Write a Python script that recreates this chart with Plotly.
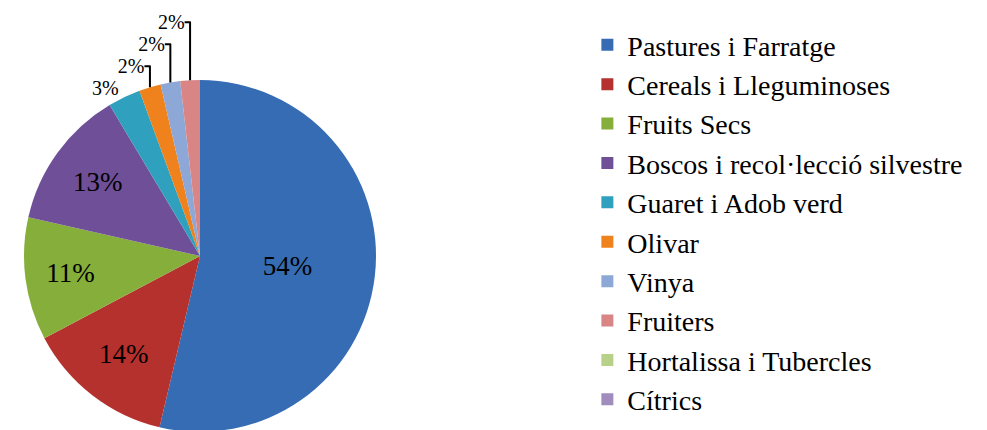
import plotly.graph_objects as go

# superficie per tipus de cultiu (%)
categories = ['Pastures i Farratge', 'Cereals i Lleguminoses', 'Fruits Secs',
              'Boscos i recol·lecció silvestre', 'Guaret i Adob verd', 'Olivar',
              'Vinya', 'Fruiters', 'Hortalissa i Tubercles', 'Cítrics']
values = [53.8, 13.6, 11.3, 12.9, 3.0, 2.0, 1.8, 1.8, 0.0, 0.0]
colors = ['#356CB4', '#B5312E', '#85AE3A', '#6F4F98', '#2FA0BD',
          '#F0821E', '#8DA8D6', '#D98586', '#B7D18A', '#A08DBE']

# etiquetes: les dels sectors petits van fora, les buides no es mostren
labels_txt = [f"{round(v)}%" if v > 0 else '' for v in values]
positions = ['inside' if v > 5 else ('outside' if v > 0 else 'none') for v in values]

serif = 'Liberation Serif, Times New Roman, serif'

fig = go.Figure(go.Pie(
    labels=categories,
    values=values,
    text=labels_txt,
    textinfo='text',
    textposition=positions,
    insidetextorientation='horizontal',
    automargin=False,
    sort=False,
    direction='clockwise',
    rotation=0,
    marker=dict(colors=colors, line=dict(width=0)),
    outsidetextfont=dict(family=serif, size=20, color='black'),
    insidetextfont=dict(family=serif, size=27, color='black'),
    domain=dict(x=[16 / 987, 368 / 987], y=[6 / 430, 358 / 430]),
    hoverinfo='label+percent',
))

fig.update_layout(
    width=987,
    height=430,
    margin=dict(l=0, r=0, t=0, b=0),
    paper_bgcolor='white',
    plot_bgcolor='white',
    showlegend=True,
    legend=dict(
        x=0.587, y=0.972,
        xanchor='left', yanchor='top',
        font=dict(family=serif, size=28, color='black'),
        bgcolor='rgba(0,0,0,0)',
        itemclick=False,
    ),
)

fig.write_html("out.html")
